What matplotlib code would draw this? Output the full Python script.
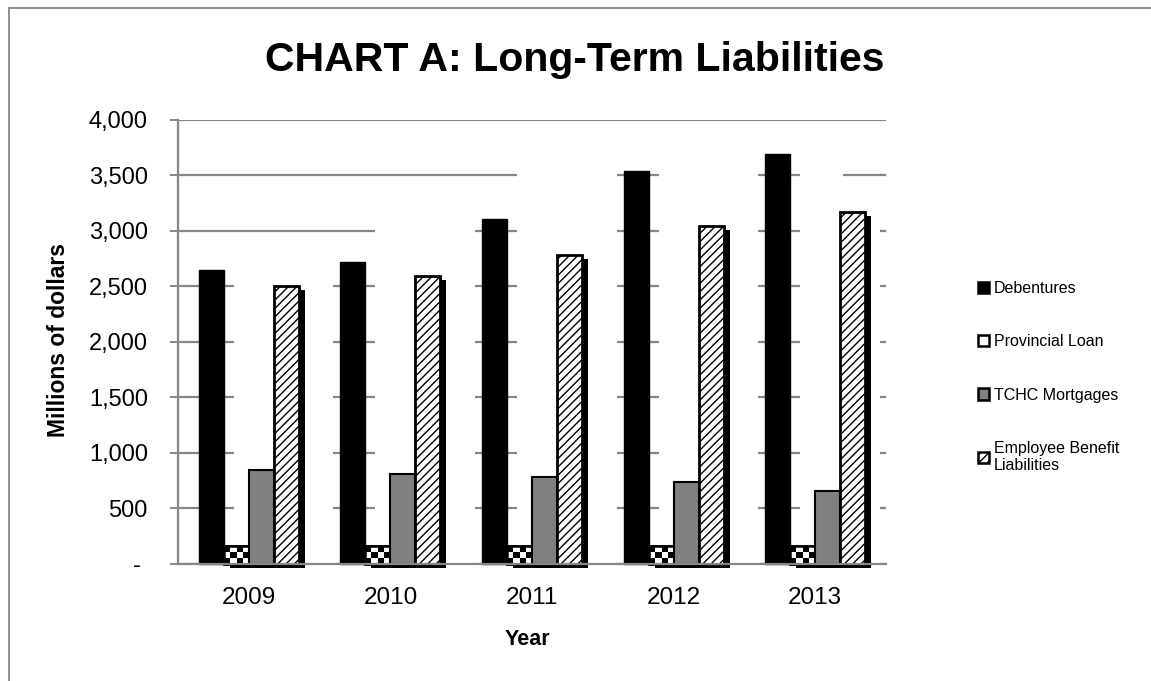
import numpy as np
import matplotlib
matplotlib.use("Agg")
import matplotlib.pyplot as plt
import matplotlib.patheffects as pe
from matplotlib import font_manager as fm
from matplotlib.lines import Line2D
from matplotlib.patches import Rectangle

# ---------------- data ----------------
years = ["2009", "2010", "2011", "2012", "2013"]
debentures = [2640, 2720, 3100, 3535, 3690]
provincial_loan = [160, 160, 160, 160, 160]
tchc_mortgages = [845, 810, 775, 735, 650]
employee_benefit = [2500, 2590, 2780, 3040, 3170]
series_labels = ["Debentures", "Provincial Loan", "TCHC Mortgages",
                 "Employee Benefit\nLiabilities"]
y_ticks = [0, 500, 1000, 1500, 2000, 2500, 3000, 3500, 4000]
y_tick_labels = ["- "] + [f"{v:,}" for v in y_ticks[1:]]

# ---------------- fonts ----------------
names = {f.name for f in fm.fontManager.ttflist}
base = "Liberation Sans" if "Liberation Sans" in names else "DejaVu Sans"
narrow = "Liberation Sans Narrow" if "Liberation Sans Narrow" in names else None
plt.rcParams["font.family"] = [base, "DejaVu Sans"]
plt.rcParams["hatch.color"] = "#4a4a4a"
plt.rcParams["hatch.linewidth"] = 1.0

GRAY = "#868686"

fig = plt.figure(figsize=(11.51, 6.81), dpi=100)
ax = fig.add_axes([0.1547, 0.17254, 0.6151, 0.65198])

x = np.arange(len(years))
w = 0.1766

shadow = [pe.SimplePatchShadow(offset=(4.3, -2.9), shadow_rgbFace="black", alpha=1.0),
          pe.Normal()]

# white "glow" areas that hide the gridlines between groups (as in the reference)
pad_r, pad_l = 0.07, 0.05
for i in range(len(years) - 1):
    x0 = x[i] - w + pad_r
    x1 = x[i + 1] - 2 * w - pad_l
    ax.add_patch(Rectangle((x0, 0), x1 - x0, debentures[i + 1],
                           facecolor="white", edgecolor="none", zorder=1))
last = len(years) - 1
ax.add_patch(Rectangle((x[last] - w + pad_r, 0), 0.196 - (-w + pad_r), debentures[last],
                       facecolor="white", edgecolor="none", zorder=1))
ax.add_patch(Rectangle((x[last] - w + pad_r, 0), 0.455 - (-w + pad_r), employee_benefit[last] + 130,
                       facecolor="white", edgecolor="none", zorder=1))

b_deb = ax.bar(x - 1.5 * w, debentures, w, color="black", edgecolor="black",
               linewidth=1.0, label=series_labels[0], zorder=2, clip_on=False)
b_prov = ax.bar(x - 0.5 * w, provincial_loan, w, color="white", edgecolor="black",
                linewidth=1.8, label=series_labels[1], zorder=2, clip_on=False)
for p in b_prov.patches:
    p.set_path_effects(shadow)
# checkerboard fill for provincial loan
checker = (np.indices((3, 4)).sum(axis=0) % 2).astype(float)
for p in b_prov.patches:
    x0, y0 = p.get_x(), p.get_y()
    ax.imshow(checker, extent=[x0, x0 + p.get_width(), y0, y0 + p.get_height()],
              cmap="gray", vmin=0, vmax=1, aspect="auto", interpolation="nearest",
              zorder=2.05, clip_on=False)
ax.bar(x - 0.5 * w, provincial_loan, w, fill=False, edgecolor="black",
       linewidth=1.8, zorder=2.1, clip_on=False)

b_tchc = ax.bar(x + 0.5 * w, tchc_mortgages, w, color="#808080", edgecolor="black",
                linewidth=1.5, label=series_labels[2], zorder=2.2, clip_on=False)
for p in b_tchc.patches:
    p.set_path_effects(shadow)
b_emp = ax.bar(x + 1.5 * w, employee_benefit, w, color="white", edgecolor="black",
               hatch="////", linewidth=2.0, label=series_labels[3], zorder=2.3, clip_on=False)
for p in b_emp.patches:
    p.set_path_effects(shadow)

# axes styling
ax.set_xlim(-0.5, 4.5)
ax.set_ylim(0, 4000)
ax.set_yticks(y_ticks)
ax.set_yticklabels(y_tick_labels, fontsize=17)
ax.set_xticks(x)
ax.set_xticklabels(years, fontsize=17.5)
ax.set_axisbelow(True)
ax.yaxis.grid(True, color=GRAY, linewidth=1.6)
ax.tick_params(axis="y", direction="out", length=5.8, width=1.4, color=GRAY, pad=16)
ax.tick_params(axis="x", length=0, pad=17)
for s in ("top", "right"):
    ax.spines[s].set_visible(False)
for s in ("left", "bottom"):
    ax.spines[s].set_color(GRAY)
    ax.spines[s].set_linewidth(1.6)
ax.spines["bottom"].set_zorder(2.5)

lab_font = [narrow, base] if narrow else [base]
ax.set_xlabel("Year", fontsize=15.5, fontweight="bold", family=lab_font)
ax.xaxis.set_label_coords(0.494, -0.172)
ax.xaxis.label.set_va("center")
ax.set_ylabel("Millions of dollars", fontsize=(19 if narrow else 16.5),
              fontweight="bold", family=lab_font)
ax.yaxis.set_label_coords((58 - 178) / 708, (563.5 - 340) / 444.0)
ax.yaxis.label.set_va("center")

# title
fig.text(0.4996, 0.912, "CHART A: Long-Term Liabilities",
         fontsize=(36 if narrow else 29.5), fontweight="bold",
         family=lab_font, ha="center", va="center")

# legend
leg = ax.legend(handles=[b_deb, b_prov, b_tchc, b_emp], labels=series_labels,
                loc="upper left", bbox_to_anchor=(978 / 1151, 1 - 281 / 681),
                bbox_transform=fig.transFigure, frameon=False, fontsize=11.5,
                labelspacing=2.4, handlelength=0.7, handleheight=0.7,
                handletextpad=0.3, borderpad=0, borderaxespad=0)
for p in leg.get_patches():
    p.set_path_effects([])
    p.set_linewidth(1.8)

# figure frame lines (left and top)
fig.add_artist(Line2D([8.5 / 1151, 8.5 / 1151], [0, 1 - 8 / 681],
                      transform=fig.transFigure, color=GRAY, linewidth=1.3))
fig.add_artist(Line2D([8.5 / 1151, 1], [1 - 8 / 681, 1 - 8 / 681],
                      transform=fig.transFigure, color=GRAY, linewidth=1.3))

fig.savefig("out.png", dpi=100)
